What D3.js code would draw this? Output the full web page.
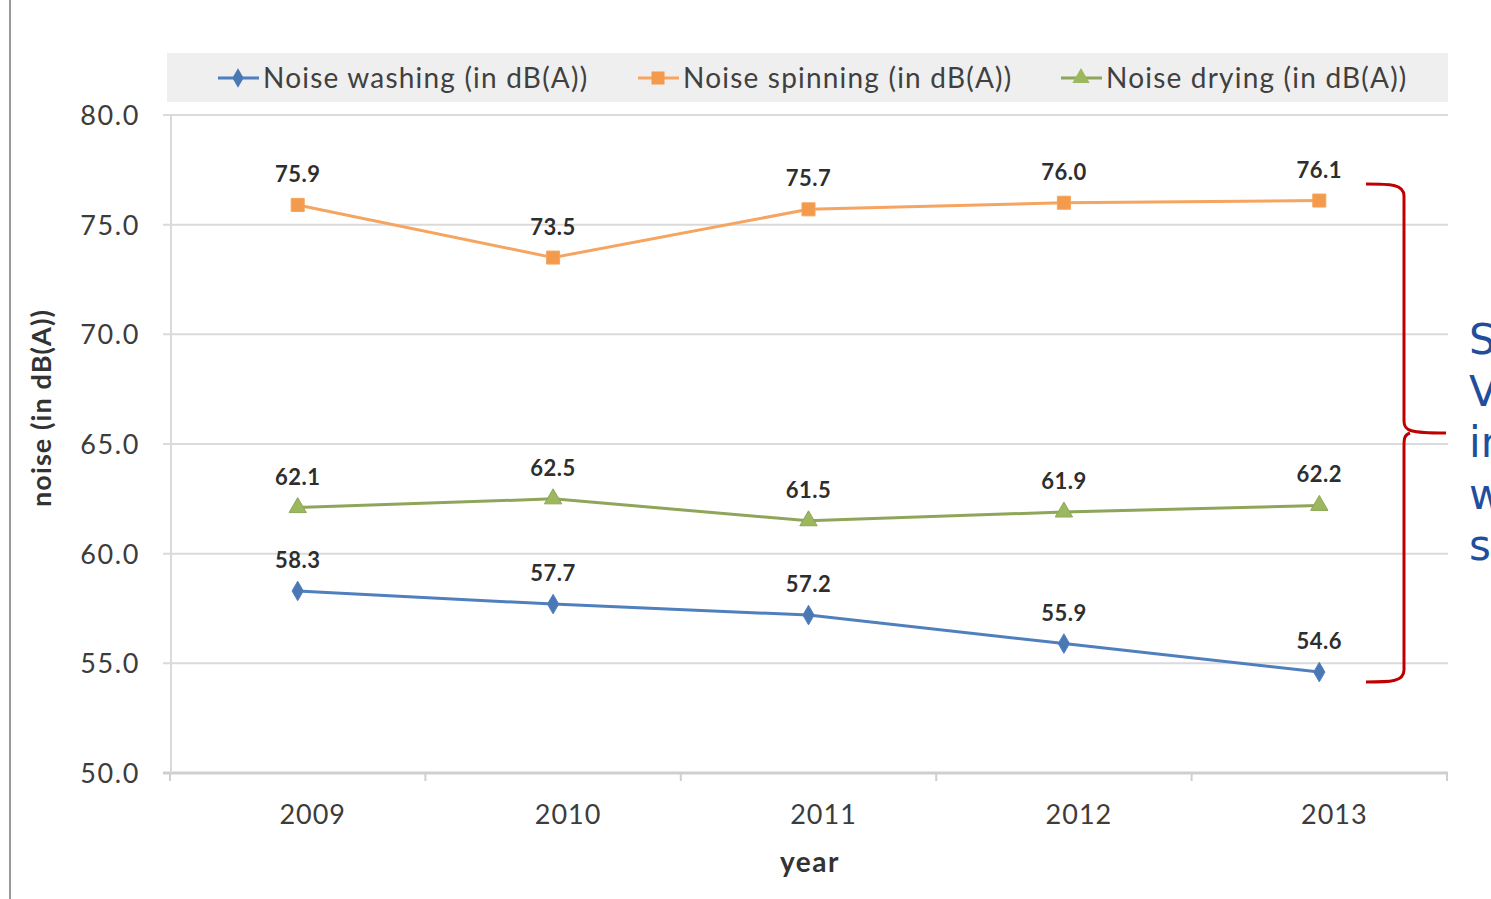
<!DOCTYPE html>
<html>
<head>
<meta charset="utf-8">
<script src="https://cdn.jsdelivr.net/npm/d3@7"></script>
<style>
  html, body { margin: 0; padding: 0; background: #fff; overflow: hidden; }
  svg { display: block; font-family: Lato, "Open Sans", sans-serif; }
</style>
</head>
<body>
<svg id="chart" width="1491" height="899"></svg>
<script>
const years = ["2009", "2010", "2011", "2012", "2013"];
const washing = [58.3, 57.7, 57.2, 55.9, 54.6];
const spinning = [75.9, 73.5, 75.7, 76.0, 76.1];
const drying = [62.1, 62.5, 61.5, 61.9, 62.2];
const yTicks = [50, 55, 60, 65, 70, 75, 80];
const seriesNames = ["Noise washing (in dB(A))", "Noise spinning (in dB(A))", "Noise drying (in dB(A))"];
const sideText = ["S", "V", "in", "w", "s"];

const series = [
  {name: seriesNames[0], values: washing, line: "#4f7fbd", fill: "#4a78b4", marker: "diamond"},
  {name: seriesNames[1], values: spinning, line: "#f5a560", fill: "#f39a4c", marker: "square"},
  {name: seriesNames[2], values: drying, line: "#8ea55a", fill: "#9bb85e", marker: "triangle"}
];

const svg = d3.select("#chart");
const x = d3.scaleBand().domain(years).range([170, 1447]).padding(0);
const y = d3.scaleLinear().domain([50, 80]).range([773, 115]);
const cx = d => x(d) + x.bandwidth() / 2;

// left page border
svg.append("line").attr("x1", 10).attr("x2", 10).attr("y1", 0).attr("y2", 899)
  .attr("stroke", "#9a9a9a").attr("stroke-width", 2);

// legend background
svg.append("rect").attr("x", 167).attr("y", 53).attr("width", 1281).attr("height", 49)
  .attr("fill", "#efefef");

// gridlines
svg.append("g").selectAll("line").data(yTicks).join("line")
  .attr("x1", 163).attr("x2", 1448)
  .attr("y1", d => y(d)).attr("y2", d => y(d))
  .attr("stroke", d => d === 50 ? "#cfcfcf" : "#dadada").attr("stroke-width", d => d === 50 ? 3 : 2);

// y axis line
svg.append("line").attr("x1", 171).attr("x2", 171).attr("y1", y(80)).attr("y2", y(50))
  .attr("stroke", "#dadada").attr("stroke-width", 2);

// y tick labels
const yAxis = d3.axisLeft(y).tickValues(yTicks).tickFormat(d3.format(".1f")).tickSize(0).tickPadding(0);
const yg = svg.append("g").attr("transform", "translate(140,0)").call(yAxis);
yg.select(".domain").remove();
yg.selectAll("text").attr("font-size", 27).attr("fill", "#3c3c3c").attr("letter-spacing", 1.6)
  .attr("font-family", "Lato, sans-serif").attr("dy", "0.35em");

// x axis ticks at band edges
const edges = years.map(d => x(d)).concat([x(years[years.length - 1]) + x.bandwidth()]);
svg.append("g").selectAll("line").data(edges).join("line")
  .attr("x1", d => d).attr("x2", d => d).attr("y1", 773).attr("y2", 781)
  .attr("stroke", "#cfcfcf").attr("stroke-width", 2);

// x labels (offset right as in reference)
const xAxis = d3.axisBottom(x).tickSize(0).tickPadding(0);
const xg = svg.append("g").attr("transform", "translate(15,815)").call(xAxis);
xg.select(".domain").remove();
xg.selectAll("text").attr("font-size", 27).attr("fill", "#3c3c3c").attr("letter-spacing", 1)
  .attr("font-family", "Lato, sans-serif").attr("dy", "0.35em");

// axis titles
svg.append("text").attr("x", 810).attr("y", 872).attr("text-anchor", "middle")
  .attr("font-size", 28).attr("letter-spacing", 1.5).attr("font-weight", "bold").attr("fill", "#333").text("year");
svg.append("text").attr("transform", "translate(51,408) rotate(-90)").attr("text-anchor", "middle")
  .attr("font-size", 27).attr("letter-spacing", 1.1).attr("font-weight", "bold").attr("fill", "#333").text("noise (in dB(A))");

// marker paths
function markerPath(type) {
  if (type === "diamond") return d3.symbol().type(d3.symbolDiamond).size(110)();
  if (type === "square") return d3.symbol().type(d3.symbolSquare).size(170)();
  return d3.symbol().type(d3.symbolTriangle).size(130)();
}

const line = d3.line().x((d, i) => cx(years[i])).y(d => y(d));

series.forEach(s => {
  const g = svg.append("g");
  g.append("path").attr("d", line(s.values)).attr("fill", "none")
    .attr("stroke", s.line).attr("stroke-width", 3);
  g.selectAll("path.m").data(s.values).join("path").attr("class", "m")
    .attr("d", markerPath(s.marker))
    .attr("transform", (d, i) => `translate(${cx(years[i])},${y(d)})`)
    .attr("fill", s.fill).attr("stroke", s.line).attr("stroke-width", 1);
  g.selectAll("text").data(s.values).join("text")
    .attr("x", (d, i) => cx(years[i])).attr("y", d => y(d) - 23)
    .attr("text-anchor", "middle").attr("font-size", 22).attr("letter-spacing", 0.5).attr("font-weight", "bold")
    .attr("fill", "#2e2e2e").text(d => d3.format(".1f")(d));
});

// legend
const legendX = [218, 638, 1061];
series.forEach((s, i) => {
  const lx = legendX[i];
  svg.append("line").attr("x1", lx).attr("x2", lx + 41).attr("y1", 78).attr("y2", 78)
    .attr("stroke", s.line).attr("stroke-width", 3);
  svg.append("path").attr("d", markerPath(s.marker))
    .attr("transform", `translate(${lx + 20},78)`).attr("fill", s.fill);
  svg.append("text").attr("x", lx + 45).attr("y", 78).attr("dy", "0.35em")
    .attr("font-size", 28).attr("letter-spacing", 1.2).attr("fill", "#404040").text(s.name);
});

// red brace
const bx = 1404, bTop = 184, bMid = 433, bBot = 682;
const brace = `M1366,${bTop} C1390,${bTop} 1404,${bTop} ${bx},${bTop + 12}
  L${bx},${bMid - 12} C${bx},${bMid - 2} 1410,${bMid} 1446,${bMid}
  M1410,${bMid} C${bx},${bMid + 2} ${bx},${bMid + 6} ${bx},${bMid + 14}
  L${bx},${bBot - 12} C${bx},${bBot} 1390,${bBot} 1366,${bBot}`;
svg.append("path").attr("d", brace).attr("fill", "none")
  .attr("stroke", "#c00000").attr("stroke-width", 3);

// side text (cut off at the page edge, as in the reference)
svg.append("g").selectAll("text").data(sideText).join("text")
  .attr("x", 1469).attr("y", (d, i) => 354 + i * 51.5)
  .attr("font-size", 42).attr("font-family", "'DejaVu Sans', sans-serif")
  .attr("fill", "#1f4e9c").text(d => d);
</script>
</body>
</html>
